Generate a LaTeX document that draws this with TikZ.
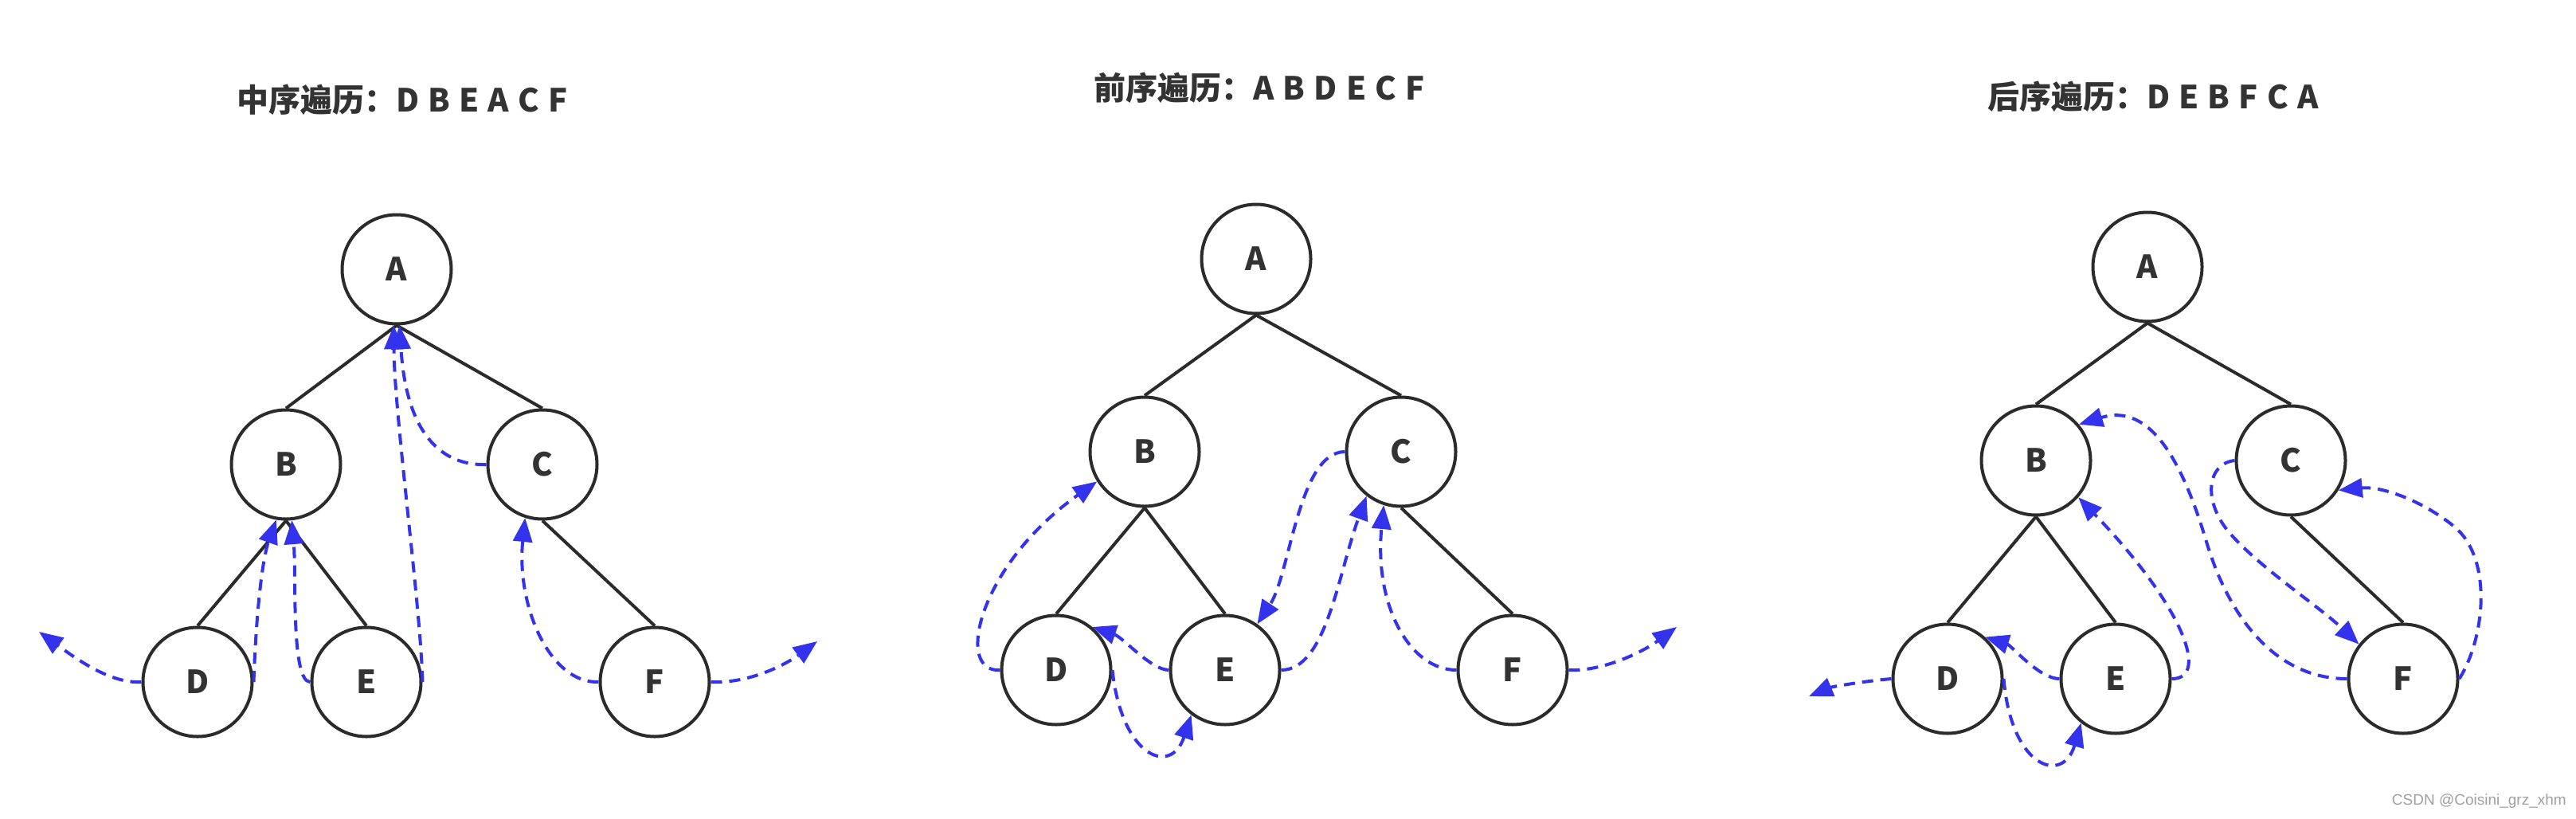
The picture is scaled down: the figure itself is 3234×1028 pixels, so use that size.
\documentclass[tikz,border=0pt]{standalone}
\usepackage{fontspec}
\newfontfamily\cjk{Noto Sans CJK SC}
\newfontfamily\wmfont{Liberation Sans}
\usetikzlibrary{arrows.meta}
\definecolor{ink}{HTML}{333333}
\definecolor{edgeink}{HTML}{2B2B2B}
\definecolor{trav}{RGB}{51,51,238}
\definecolor{wm}{HTML}{A0A0A0}
\newcommand\lgap{\hspace{0.28em}}
\begin{document}
\begin{tikzpicture}[x=1pt,y=-1pt,
  tnode/.style={circle,draw=edgeink,line width=4pt,minimum size=137pt,inner sep=0pt,
    font=\cjk\bfseries\fontsize{40}{48}\selectfont,text=ink},
  tedge/.style={draw=edgeink,line width=4pt},
  walk/.style={draw=trav,line width=4pt,dash pattern=on 14pt off 9pt,
    -{Triangle[length=30pt,width=24pt]}},
  ttl/.style={anchor=west,inner sep=0pt,text=ink,
    font=\cjk\bfseries\fontsize{40}{48}\selectfont}]
\useasboundingbox (0,0) rectangle (3234,1028);
\fill[white] (0,0) rectangle (3234,1028);

% ---------- titles ----------
\node[ttl] (t1) at (297,125) {中序遍历：D\lgap B\lgap E\lgap A\lgap C\lgap F};
\node[ttl] (t2) at (1373,110) {前序遍历：A\lgap B\lgap D\lgap E\lgap C\lgap F};
\node[ttl] (t3) at (2495,121) {后序遍历：D\lgap E\lgap B\lgap F\lgap C\lgap A};

% ---------- panel 1 (in-order) ----------
\node[tnode] (A1) at (498,338) {A};
\node[tnode] (B1) at (359,583) {B};
\node[tnode] (C1) at (681,583) {C};
\node[tnode] (D1) at (248,856) {D};
\node[tnode] (E1) at (460,856) {E};
\node[tnode] (F1) at (822,856) {F};
\draw[tedge] (A1.south) -- (B1.north);
\draw[tedge] (A1.south) -- (C1.north);
\draw[tedge] (B1.south) -- (D1.north);
\draw[tedge] (B1.south) -- (E1.north);
\draw[tedge] (C1.south) -- (F1.north);
\coordinate (o1) at (49,793);
\coordinate (o2) at (1026,805);
\draw[walk] (D1.west) .. controls (140,858) and (100,830) .. (o1);
\draw[walk] (D1.east) .. controls (322,760) and (330,700) .. (B1.-100);
\draw[walk] (E1.west) .. controls (365,856) and (372,720) .. (B1.-84);
\draw[walk] (E1.east) .. controls (528,760) and (495,520) .. (A1.-93);
\draw[walk] (C1.west) .. controls (555,585) and (510,545) .. (A1.-87);
\draw[walk] (F1.west) .. controls (690,858) and (648,760) .. (C1.-108);
\draw[walk] (F1.east) .. controls (940,858) and (985,835) .. (o2);

% ---------- panel 2 (pre-order) ----------
\node[tnode] (A2) at (1577,325) {A};
\node[tnode] (B2) at (1437,567) {B};
\node[tnode] (C2) at (1759,567) {C};
\node[tnode] (D2) at (1326,841) {D};
\node[tnode] (E2) at (1538,841) {E};
\node[tnode] (F2) at (1899,841) {F};
\draw[tedge] (A2.south) -- (B2.north);
\draw[tedge] (A2.south) -- (C2.north);
\draw[tedge] (B2.south) -- (D2.north);
\draw[tedge] (B2.south) -- (E2.north);
\draw[tedge] (C2.south) -- (F2.north);
\coordinate (o3) at (2105,787);
\draw[walk] (D2.west) .. controls (1198,845) and (1228,710) .. (B2.-148);
\draw[walk] (E2.west) .. controls (1445,841) and (1410,800) .. (D2.50);
\draw[walk] (D2.east) .. controls (1408,950) and (1470,975) .. (E2.-127);
\draw[walk] (C2.west) .. controls (1630,567) and (1620,720) .. (E2.55);
\draw[walk] (E2.east) .. controls (1665,841) and (1680,720) .. (C2.-128);
\draw[walk] (F2.west) .. controls (1770,841) and (1725,760) .. (C2.-108);
\draw[walk] (F2.east) .. controls (2010,843) and (2060,820) .. (o3);

% ---------- panel 3 (post-order) ----------
\node[tnode] (A3) at (2696,335) {A};
\node[tnode] (B3) at (2556,578) {B};
\node[tnode] (C3) at (2876,578) {C};
\node[tnode] (D3) at (2445,852) {D};
\node[tnode] (E3) at (2656,852) {E};
\node[tnode] (F3) at (3017,852) {F};
\draw[tedge] (A3.south) -- (B3.north);
\draw[tedge] (A3.south) -- (C3.north);
\draw[tedge] (B3.south) -- (D3.north);
\draw[tedge] (B3.south) -- (E3.north);
\draw[tedge] (C3.south) -- (F3.north);
\coordinate (o4) at (2271,874);
\draw[walk] (D3.west) .. controls (2340,855) and (2300,862) .. (o4);
\draw[walk] (E3.west) .. controls (2560,852) and (2525,810) .. (D3.48);
\draw[walk] (D3.east) .. controls (2525,965) and (2590,985) .. (E3.-128);
\draw[walk] (E3.east) .. controls (2775,852) and (2740,760) .. (B3.-41);
\draw[walk] (F3.west) .. controls (2860,852) and (2800,780) .. (2770,680)
   .. controls (2740,580) and (2700,505) .. (B3.40);
\draw[walk] (C3.west) .. controls (2770,582) and (2765,630) .. (2800,670)
   .. controls (2840,715) and (2910,760) .. (F3.142);
\draw[walk] (F3.east) .. controls (3120,800) and (3130,700) .. (3080,660)
   .. controls (3040,628) and (2990,610) .. (C3.-32);

% ---------- watermark ----------
\node[anchor=east,inner sep=0pt,text=wm,font=\wmfont\fontsize{19}{22}\selectfont] (wm) at (3222,1006) {CSDN @Coisini\_grz\_xhm};
\end{tikzpicture}
\end{document}
